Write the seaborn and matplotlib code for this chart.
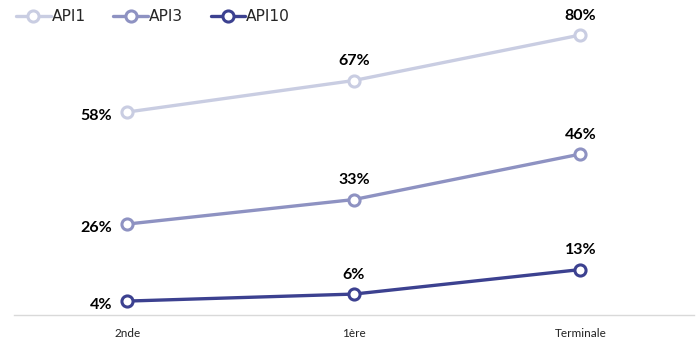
import matplotlib
matplotlib.use("Agg")
import matplotlib.pyplot as plt
import seaborn as sns
import pandas as pd

categories = ["2nde", "1ère", "Terminale"]
series_names = ["API1", "API3", "API10"]
api1 = [58, 67, 80]
api3 = [26, 33, 46]
api10 = [4, 6, 13]
colors = ["#c9cde2", "#8e92c2", "#3c4190"]

rows = []
for name, vals in zip(series_names, [api1, api3, api10]):
    for i, (c, v) in enumerate(zip(categories, vals)):
        rows.append({"cat": i, "label": c, "value": v, "series": name})
df = pd.DataFrame(rows)

sns.set_theme(style="white")
plt.rcParams["font.family"] = ["Lato", "DejaVu Sans"]

fig = plt.figure(figsize=(7, 3.41), dpi=100)
ax = fig.add_axes([0.02, 0.076, 0.971, 0.924])

sns.lineplot(data=df, x="cat", y="value", hue="series", hue_order=series_names,
             palette=colors, marker="o", markersize=8, markerfacecolor="white",
             markeredgewidth=2.2, linewidth=2.4, ax=ax, legend=False)
for line, col in zip(ax.lines, colors):
    line.set_markeredgecolor(col)

ax.set_xlim(-0.5, 2.5)
ax.set_ylim(0, 90)
ax.set_xticks(range(len(categories)))
ax.set_xticklabels(categories, fontsize=8.5, color="#222222")
ax.tick_params(axis="x", length=0, pad=9)
ax.set_yticks([])
ax.set_xlabel("")
ax.set_ylabel("")
for s in ["top", "right", "left"]:
    ax.spines[s].set_visible(False)
ax.spines["bottom"].set_color("#d9d9d9")
ax.spines["bottom"].set_linewidth(1)

for vals in [api1, api3, api10]:
    for i, v in enumerate(vals):
        if i == 0:
            ax.annotate(f"{v}%", (i, v), xytext=(-11, -3), textcoords="offset points",
                        ha="right", va="center", fontsize=11.5, fontweight="bold", color="black")
        else:
            ax.annotate(f"{v}%", (i, v), xytext=(0, 9), textcoords="offset points",
                        ha="center", va="bottom", fontsize=11.5, fontweight="bold", color="black")

from matplotlib.lines import Line2D
handles = [Line2D([0], [0], color=c, lw=2.4, marker="o", markersize=8,
                  markerfacecolor="white", markeredgecolor=c, markeredgewidth=2.2)
           for c in colors]
fig.legend(handles, series_names, loc="upper left", bbox_to_anchor=(0.01, 1.0),
           ncol=3, frameon=False, handlelength=2.2, handletextpad=0.1,
           columnspacing=1.75, borderaxespad=0.2, prop={"family": ["DejaVu Sans"], "size": 11.2})

fig.savefig("out.png", dpi=100)
